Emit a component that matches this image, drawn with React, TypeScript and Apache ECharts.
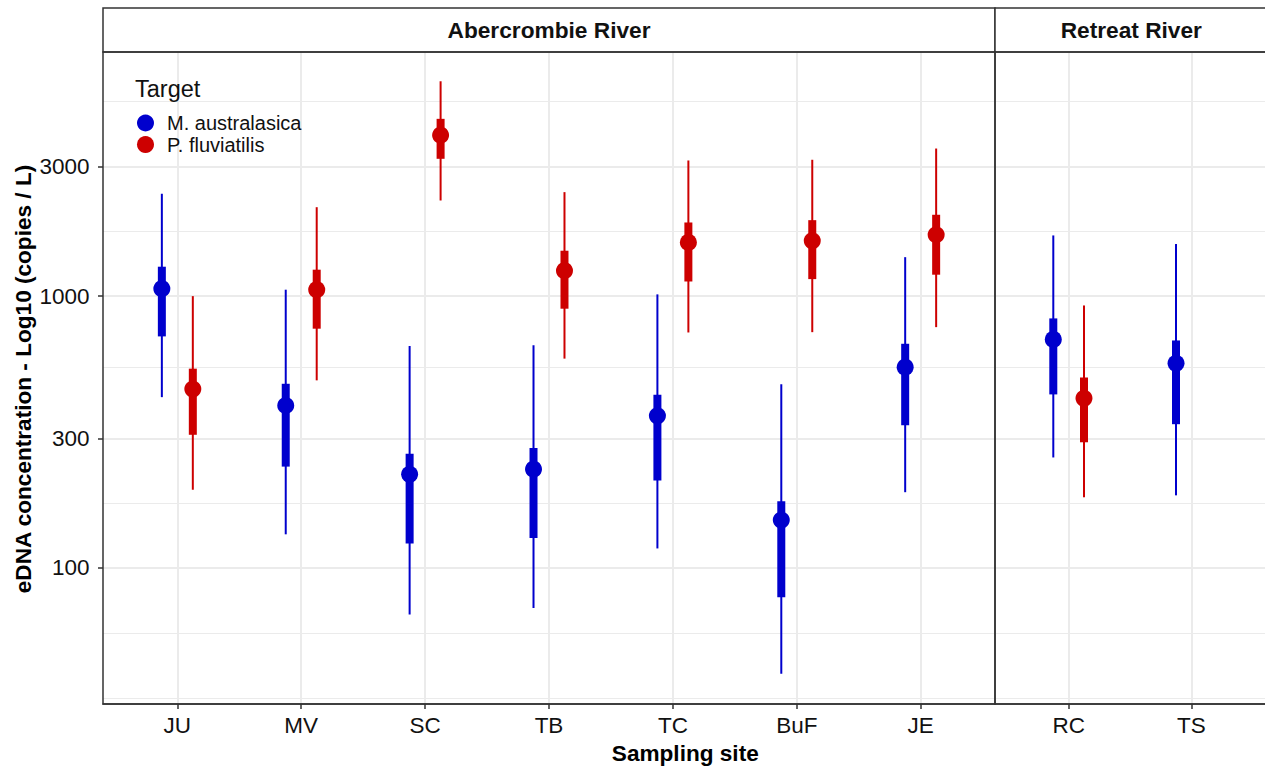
import React, { useEffect, useRef } from 'react';
import * as echarts from 'echarts';

// ---------- data (copies / L) ----------
const abercrombieSites = ['JU', 'MV', 'SC', 'TB', 'TC', 'BuF', 'JE'];
const retreatSites = ['RC', 'TS'];

// M. australasica – Abercrombie River
const mausAberLow95 = [425, 133, 67.4, 71.3, 118, 40.8, 190];
const mausAberLowInner = [711, 236, 123, 129, 210, 78, 335];
const mausAberMedian = [1065, 396, 221, 231, 363, 150, 548];
const mausAberHighInner = [1283, 476, 263, 276, 434, 176, 668];
const mausAberHigh95 = [2380, 1056, 655, 659, 1015, 474, 1391];

// P. fluviatilis – Abercrombie River
const pfluAberLow95 = [194, 490, 2248, 589, 735, 737, 769];
const pfluAberLowInner = [309, 759, 3200, 899, 1132, 1155, 1199];
const pfluAberMedian = [455, 1056, 3908, 1240, 1576, 1598, 1682];
const pfluAberHighInner = [541, 1251, 4489, 1469, 1866, 1903, 1992];
const pfluAberHigh95 = [1000, 2124, 6171, 2413, 3155, 3174, 3491];

// M. australasica – Retreat River
const mausRetLow95 = [255, 185];
const mausRetLowInner = [435, 338];
const mausRetMedian = [693, 566];
const mausRetHighInner = [828, 687];
const mausRetHigh95 = [1672, 1555];

// P. fluviatilis – Retreat River (not detected at TS)
const pfluRetLow95 = [182, null];
const pfluRetLowInner = [290, null];
const pfluRetMedian = [421, null];
const pfluRetHighInner = [502, null];
const pfluRetHigh95 = [924, null];

const yTickValues = [100, 300, 1000, 3000];
const yMinorGridValues = [33.3, 57.7, 173.2, 547.7, 1732, 5196];
const yLimits = [31.6, 7907];

const targetNames = ['M. australasica', 'P. fluviatilis'];
const targetColors = ['#0000CD', '#CD0000'];
const dodge = 0.125;

// ---------- helpers ----------
const lg = (v: number) => Math.log10(v);

function buildItems(offset: number, lo95: any[], loIn: any[], med: any[], hiIn: any[], hi95: any[]) {
  const out: number[][] = [];
  med.forEach((m, i) => {
    if (m == null) return;
    out.push([i + 1 + offset, lg(lo95[i]), lg(loIn[i]), lg(m), lg(hiIn[i]), lg(hi95[i])]);
  });
  return out;
}

const FONT = 'Liberation Sans, Arial, sans-serif';
const GRID_TOP = 52;
const GRID_H = 652;
const UNIT = 892 / 7.2;

const renderInterval = (params: any, api: any) => {
  const x = api.value(0);
  const a = api.coord([x, api.value(1)]);
  const b = api.coord([x, api.value(2)]);
  const m = api.coord([x, api.value(3)]);
  const c = api.coord([x, api.value(4)]);
  const d = api.coord([x, api.value(5)]);
  const color = api.visual('color');
  return {
    type: 'group',
    children: [
      { type: 'line', shape: { x1: a[0], y1: a[1], x2: d[0], y2: d[1] }, style: { stroke: color, lineWidth: 2 } },
      { type: 'line', shape: { x1: b[0], y1: b[1], x2: c[0], y2: c[1] }, style: { stroke: color, lineWidth: 8 } },
      { type: 'circle', shape: { cx: m[0], cy: m[1], r: 8.5 }, style: { fill: color } },
    ],
  };
};

const yMin = lg(yLimits[0]);
const yMax = lg(yLimits[1]);
const majorLog = yTickValues.map(lg);
const minorLog = yMinorGridValues.map(lg);

function makeYAxes(gridIndex: number, showLabels: boolean) {
  return [
    {
      type: 'value',
      gridIndex,
      min: yMin,
      max: yMax,
      position: 'left',
      axisLine: { show: false },
      axisTick: {
        show: showLabels,
        length: 5,
        lineStyle: { color: '#333', width: 1.5 },
        customValues: majorLog,
      },
      axisLabel: {
        show: showLabels,
        customValues: majorLog,
        formatter: (v: number) => String(Math.round(Math.pow(10, v))),
        fontSize: 22.5,
        fontFamily: FONT,
        color: '#111',
        margin: 13.5,
      },
      splitLine: { show: true, customValues: majorLog, lineStyle: { color: '#EBEBEB', width: 2 } },
    },
    {
      type: 'value',
      gridIndex,
      min: yMin,
      max: yMax,
      position: 'left',
      axisLine: { show: false },
      axisTick: { show: false, customValues: minorLog },
      axisLabel: { show: false, customValues: minorLog },
      splitLine: { show: true, customValues: minorLog, lineStyle: { color: '#EBEBEB', width: 1 } },
    },
  ];
}

function makeXAxis(gridIndex: number, names: string[]) {
  const vals = names.map((_, i) => i + 1);
  return {
    type: 'value',
    gridIndex,
    min: 0.4,
    max: names.length + 0.6,
    axisLine: { show: true, lineStyle: { color: '#333', width: 1.5 } },
    axisTick: { show: true, length: 5, lineStyle: { color: '#333', width: 1.5 }, customValues: vals },
    axisLabel: {
      customValues: vals,
      formatter: (v: number) => names[Math.round(v) - 1] ?? '',
      fontSize: 22.5,
      fontFamily: FONT,
      color: '#111',
      margin: 9.5,
    },
    splitLine: { show: true, customValues: vals, lineStyle: { color: '#EBEBEB', width: 2 } },
  };
}

const leftX = 103;
const leftW = 892;
const rightX = 995;
const rightW = UNIT * 2.2;

const option: any = {
  animation: false,
  backgroundColor: '#fff',
  grid: [
    { left: leftX, top: GRID_TOP, width: leftW, height: GRID_H, containLabel: false },
    { left: rightX, top: GRID_TOP, width: rightW, height: GRID_H, containLabel: false },
  ],
  xAxis: [makeXAxis(0, abercrombieSites), makeXAxis(1, retreatSites)],
  yAxis: [...makeYAxes(0, true), ...makeYAxes(1, false)],
  legend: {
    data: targetNames,
    orient: 'vertical',
    left: 132,
    top: 108,
    icon: 'circle',
    itemWidth: 17,
    itemHeight: 17,
    itemGap: 1.6,
    textStyle: { fontSize: 20, fontFamily: FONT, color: '#111', lineHeight: 20, padding: [0, 0, 0, 8] },
  },
  series: [
    {
      type: 'custom', name: targetNames[0], xAxisIndex: 0, yAxisIndex: 0,
      itemStyle: { color: targetColors[0] }, renderItem: renderInterval, encode: { x: 0, y: [1, 2, 3, 4, 5] },
      data: buildItems(-dodge, mausAberLow95, mausAberLowInner, mausAberMedian, mausAberHighInner, mausAberHigh95),
    },
    {
      type: 'custom', name: targetNames[1], xAxisIndex: 0, yAxisIndex: 0,
      itemStyle: { color: targetColors[1] }, renderItem: renderInterval, encode: { x: 0, y: [1, 2, 3, 4, 5] },
      data: buildItems(dodge, pfluAberLow95, pfluAberLowInner, pfluAberMedian, pfluAberHighInner, pfluAberHigh95),
    },
    {
      type: 'custom', name: targetNames[0], xAxisIndex: 1, yAxisIndex: 2,
      itemStyle: { color: targetColors[0] }, renderItem: renderInterval, encode: { x: 0, y: [1, 2, 3, 4, 5] },
      data: buildItems(-dodge, mausRetLow95, mausRetLowInner, mausRetMedian, mausRetHighInner, mausRetHigh95),
    },
    {
      type: 'custom', name: targetNames[1], xAxisIndex: 1, yAxisIndex: 2,
      itemStyle: { color: targetColors[1] }, renderItem: renderInterval, encode: { x: 0, y: [1, 2, 3, 4, 5] },
      data: buildItems(dodge, pfluRetLow95, pfluRetLowInner, pfluRetMedian, pfluRetHighInner, pfluRetHigh95),
    },
  ],
  graphic: [
    // strips
    { type: 'rect', z: 50, shape: { x: leftX, y: 8, width: leftW, height: GRID_TOP - 8 }, style: { fill: '#fff', stroke: '#333', lineWidth: 1.5 } },
    { type: 'rect', z: 50, shape: { x: rightX, y: 8, width: rightW, height: GRID_TOP - 8 }, style: { fill: '#fff', stroke: '#333', lineWidth: 1.5 } },
    { type: 'text', z: 51, x: leftX + leftW / 2, y: 30, style: { text: 'Abercrombie River', fontSize: 22.7, fontWeight: 'bold', fontFamily: FONT, fill: '#111', align: 'center', verticalAlign: 'middle' } },
    { type: 'text', z: 51, x: rightX + rightW / 2, y: 30, style: { text: 'Retreat River', fontSize: 22.7, fontWeight: 'bold', fontFamily: FONT, fill: '#111', align: 'center', verticalAlign: 'middle' } },
    // panel borders
    { type: 'rect', z: 50, silent: true, shape: { x: leftX, y: GRID_TOP, width: leftW, height: GRID_H }, style: { fill: 'none', stroke: '#333', lineWidth: 1.5 } },
    { type: 'rect', z: 50, silent: true, shape: { x: rightX, y: GRID_TOP, width: rightW, height: GRID_H }, style: { fill: 'none', stroke: '#333', lineWidth: 1.5 } },
    // axis titles
    { type: 'text', z: 51, x: 23, y: GRID_TOP + GRID_H / 2 + 1, rotation: Math.PI / 2, style: { text: 'eDNA concentration - Log10 (copies / L)', fontSize: 22.6, fontWeight: 'bold', fontFamily: FONT, fill: '#000', align: 'center', verticalAlign: 'middle' } },
    { type: 'text', z: 51, x: (leftX + rightX + rightW) / 2, y: 753, style: { text: 'Sampling site', fontSize: 22.6, fontWeight: 'bold', fontFamily: FONT, fill: '#000', align: 'center', verticalAlign: 'middle' } },
    // legend title
    { type: 'text', z: 51, x: 135, y: 89, style: { text: 'Target', fontSize: 23.5, fontFamily: FONT, fill: '#111', align: 'left', verticalAlign: 'middle' } },
  ],
};

export default function App() {
  const ref = useRef<HTMLDivElement>(null);
  useEffect(() => {
    const chart = echarts.init(ref.current!, null, { renderer: 'svg' });
    chart.setOption(option);
    return () => chart.dispose();
  }, []);
  return (
    <div
      ref={ref}
      style={{ position: 'fixed', left: 0, top: 0, width: 1265, height: 769, background: '#fff' }}
    />
  );
}
